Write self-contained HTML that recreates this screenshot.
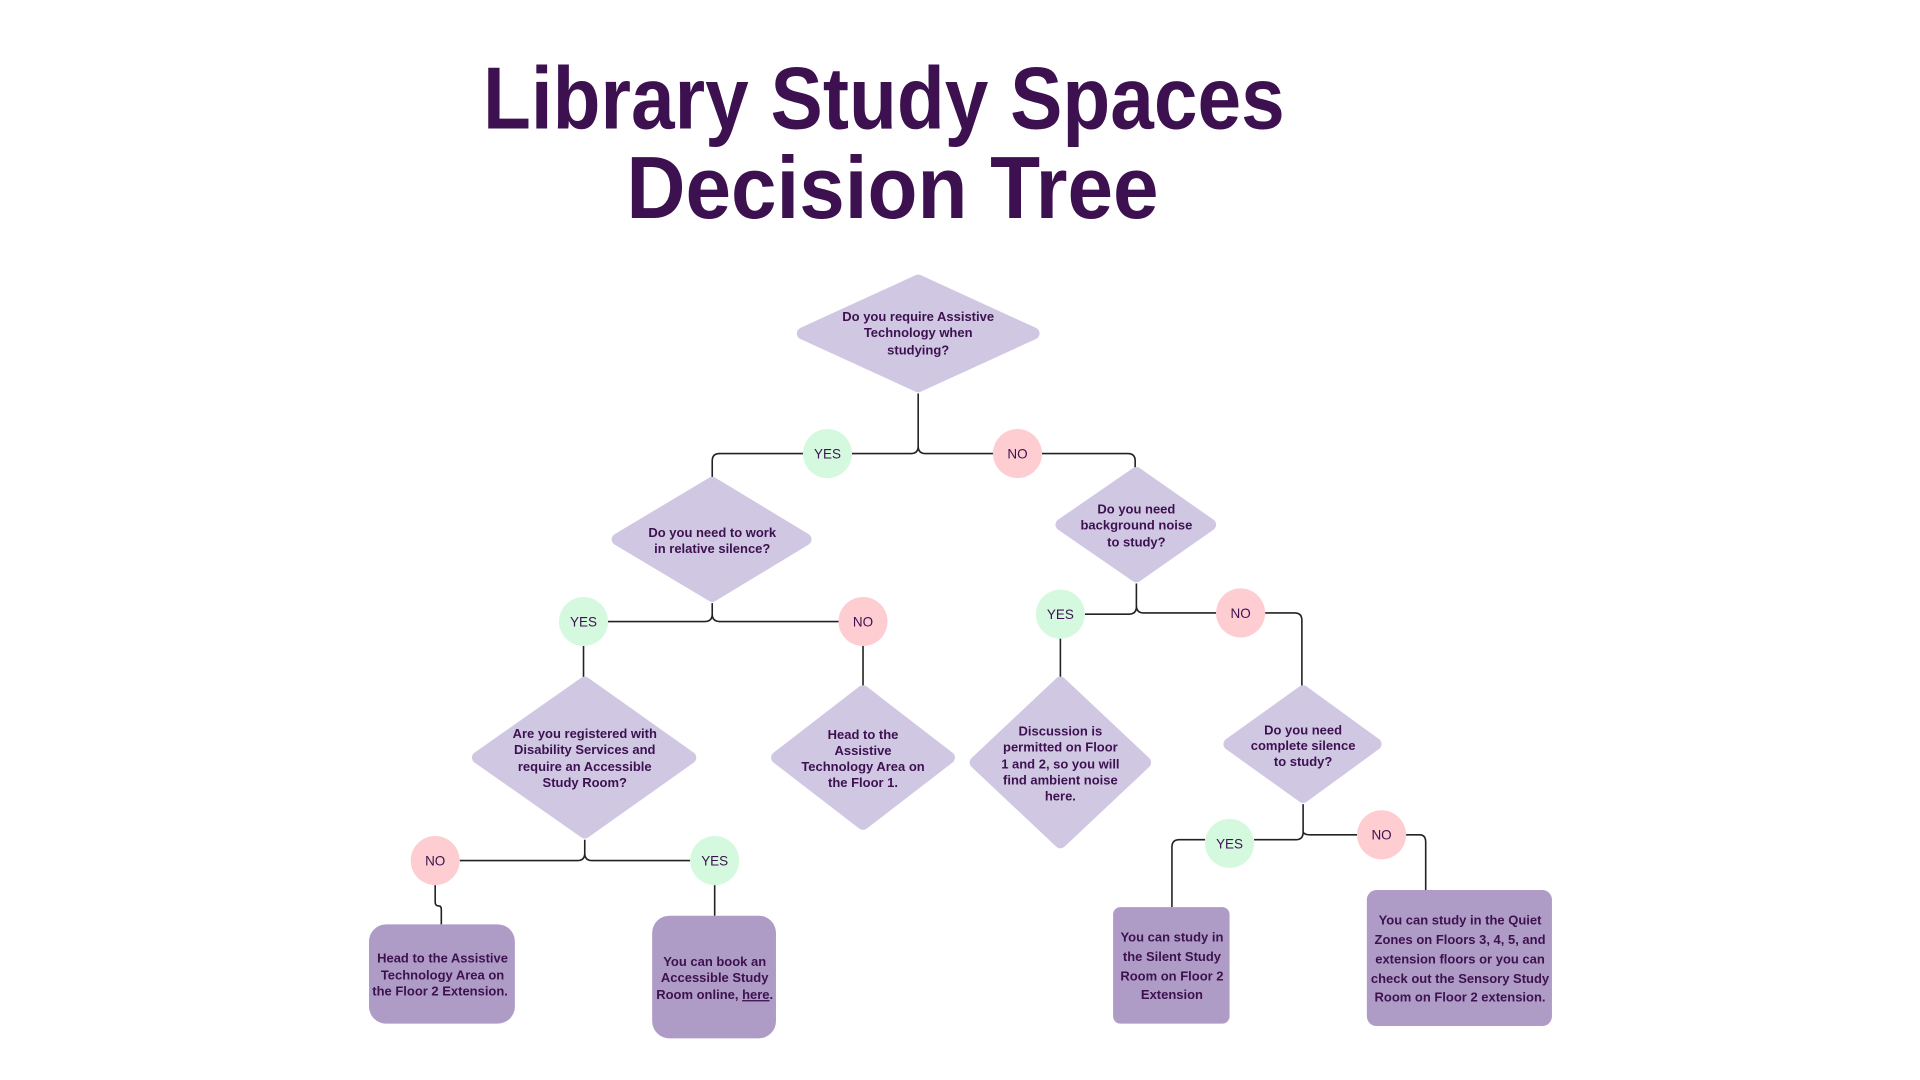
<!DOCTYPE html>
<html><head><meta charset="utf-8"><style>
html,body{margin:0;padding:0;background:#fff;width:1920px;height:1080px;overflow:hidden}
svg{display:block}
.t{font-family:"Liberation Sans",sans-serif;font-weight:bold;fill:#3d1150}
.s{font-family:"Liberation Sans",sans-serif;font-weight:bold;font-size:10.6px;fill:#3d1150;text-anchor:middle}
.c{font-family:"Liberation Sans",sans-serif;font-size:11px;fill:#3d1150;text-anchor:middle}
.d{fill:#d0c8e3;stroke:#d0c8e3;stroke-width:10;stroke-linejoin:round}
.b{fill:#ae9cc6}
.l{fill:none;stroke:#222;stroke-width:1.3}
.y{fill:#d5f9df}.n{fill:#fdcdd2}
</style></head><body>
<svg width="1920" height="1080" viewBox="0 0 1566 881" preserveAspectRatio="xMinYMin meet" xmlns="http://www.w3.org/2000/svg">
<text class="t" x="721" y="105" font-size="72" text-anchor="middle" textLength="654" lengthAdjust="spacingAndGlyphs">Library Study Spaces</text>
<text class="t" x="728" y="178" font-size="72" text-anchor="middle" textLength="434" lengthAdjust="spacingAndGlyphs">Decision Tree</text>

<path class="l" d="M749 321 V364 Q749 370 743 370 H695 M749 364 Q749 370 755 370 H810"/>
<path class="l" d="M655 370 H587 Q581 370 581 376 V390 M850 370 H920 Q926 370 926 376 V382"/>
<path class="l" d="M581 492 V501 Q581 507 575 507 H496 M581 501 Q581 507 587 507 H684"/>
<path class="l" d="M476 527 V553 M704 527 V560"/>
<path class="l" d="M927 476 V495 Q927 501 921 501 H885 M927 494 Q927 500 933 500 H992"/>
<path class="l" d="M1032 500 H1056 Q1062 500 1062 506 V560 M865 521 V553"/>
<path class="l" d="M477 685 V696 Q477 702 471 702 H375 M477 696 Q477 702 483 702 H563"/>
<path class="l" d="M355 722 V736 Q355 739 358 739 Q360 739 360 742 V754 M583 722 V747"/>
<path class="l" d="M1063 656 V679 Q1063 685 1057 685 H1023 M1063 678 Q1063 681 1069 681 H1107"/>
<path class="l" d="M983 685 H962 Q956 685 956 691 V740 M1147 681 H1158 Q1163 681 1163 687 V726"/>

<polygon class="d" points="749,229 843,272 749,315 655,272"/>
<polygon class="d" points="581,394 657,440 581,486 504,440"/>
<polygon class="d" points="927,386 987,428 927,470 866,428"/>
<polygon class="d" points="477,557 563,618 477,679 390,618"/>
<polygon class="d" points="704,564 774,618 704,672 634,618"/>
<polygon class="d" points="865,557 934,622 865,687 796,622"/>
<polygon class="d" points="1063,564 1122,607 1063,650 1003,607"/>

<text class="s" x="749" y="262">Do you require Assistive</text>
<text class="s" x="749" y="275">Technology when</text>
<text class="s" x="749" y="289">studying?</text>
<text class="s" x="581" y="438">Do you need to work</text>
<text class="s" x="581" y="451">in relative silence?</text>
<text class="s" x="927" y="419">Do you need</text>
<text class="s" x="927" y="432">background noise</text>
<text class="s" x="927" y="446">to study?</text>
<text class="s" x="477" y="602">Are you registered with</text>
<text class="s" x="477" y="615">Disability Services and</text>
<text class="s" x="477" y="629">require an Accessible</text>
<text class="s" x="477" y="642">Study Room?</text>
<text class="s" x="704" y="603">Head to the</text>
<text class="s" x="704" y="616">Assistive</text>
<text class="s" x="704" y="629">Technology Area on</text>
<text class="s" x="704" y="642">the Floor 1.</text>
<text class="s" x="865" y="600">Discussion is</text>
<text class="s" x="865" y="613">permitted on Floor</text>
<text class="s" x="865" y="627">1 and 2, so you will</text>
<text class="s" x="865" y="640">find ambient noise</text>
<text class="s" x="865" y="653">here.</text>
<text class="s" x="1063" y="599">Do you need</text>
<text class="s" x="1063" y="612">complete silence</text>
<text class="s" x="1063" y="625">to study?</text>

<circle class="y" cx="675" cy="370" r="20"/><text class="c" x="675" y="374">YES</text>
<circle class="n" cx="830" cy="370" r="20"/><text class="c" x="830" y="374">NO</text>
<circle class="y" cx="476" cy="507" r="20"/><text class="c" x="476" y="511">YES</text>
<circle class="n" cx="704" cy="507" r="20"/><text class="c" x="704" y="511">NO</text>
<circle class="y" cx="865" cy="501" r="20"/><text class="c" x="865" y="505">YES</text>
<circle class="n" cx="1012" cy="500" r="20"/><text class="c" x="1012" y="504">NO</text>
<circle class="n" cx="355" cy="702" r="20"/><text class="c" x="355" y="706">NO</text>
<circle class="y" cx="583" cy="702" r="20"/><text class="c" x="583" y="706">YES</text>
<circle class="y" cx="1003" cy="688" r="20"/><text class="c" x="1003" y="692">YES</text>
<circle class="n" cx="1127" cy="681" r="20"/><text class="c" x="1127" y="685">NO</text>

<rect class="b" x="301" y="754" width="119" height="81" rx="14"/>
<text class="s" x="361" y="785">Head to the Assistive</text>
<text class="s" x="361" y="799">Technology Area on</text>
<text class="s" x="359" y="812">the Floor 2 Extension.</text>
<rect class="b" x="532" y="747" width="101" height="100" rx="14"/>
<text class="s" x="583" y="788">You can book an</text>
<text class="s" x="583" y="801">Accessible Study</text>
<text class="s" x="583" y="815">Room online, <tspan text-decoration="underline">here</tspan>.</text>
<rect class="b" x="908" y="740" width="95" height="95" rx="6"/>
<text class="s" x="956" y="768">You can study in</text>
<text class="s" x="956" y="784">the Silent Study</text>
<text class="s" x="956" y="800">Room on Floor 2</text>
<text class="s" x="956" y="815">Extension</text>
<rect class="b" x="1115" y="726" width="151" height="111" rx="8"/>
<text class="s" x="1191" y="754">You can study in the Quiet</text>
<text class="s" x="1191" y="770">Zones on Floors 3, 4, 5, and</text>
<text class="s" x="1191" y="786">extension floors or you can</text>
<text class="s" x="1191" y="802">check out the Sensory Study</text>
<text class="s" x="1191" y="817">Room on Floor 2 extension.</text>
</svg>
</body></html>
